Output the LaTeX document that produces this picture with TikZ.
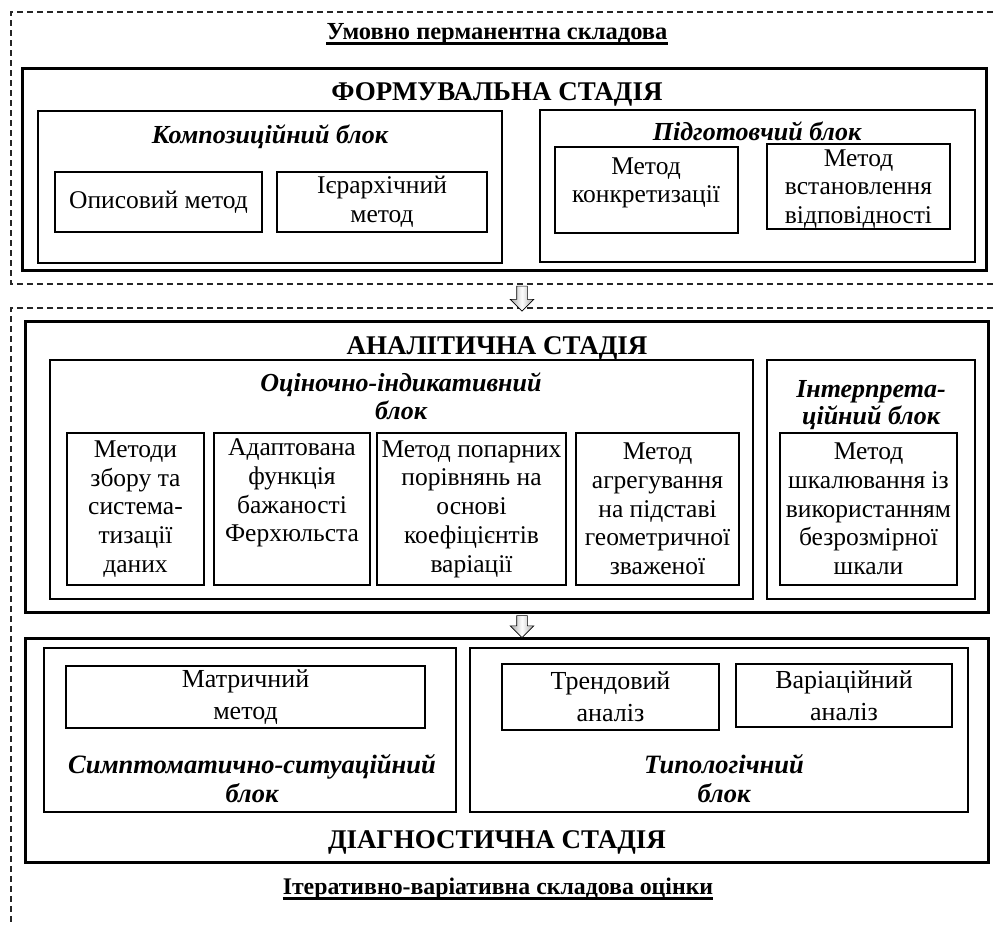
\documentclass[tikz,border=0pt]{standalone}
\usepackage{fontspec}
\setmainfont{Liberation Serif}
\usetikzlibrary{fit,shapes.arrows}
\newcommand\rbox[7]{\node[#2, fit={(#3,#4) (#5,#6)}, inner sep=0pt] (#1) {};
  \node[align=center, inner sep=0pt, txt] (#1-t) at (#1.center) {#7};}
\tikzset{
  txt/.style={font=\fontsize{25.5}{28.7}\selectfont},
  stagebox/.style={draw, line width=3pt},
  blockbox/.style={draw, line width=1.3pt},
  methbox/.style={draw, line width=1.3pt},
  stagettl/.style={font=\fontsize{27}{30}\selectfont\bfseries, inner sep=0pt},
  blockttl/.style={font=\fontsize{26}{28}\selectfont\bfseries\itshape, align=center, inner sep=0pt},
  blockttlc/.style={font=\fontsize{26.5}{29}\selectfont\bfseries\itshape, align=center, inner sep=0pt},
  condtxt/.style={font=\fontsize{26}{32}\selectfont},
  dashline/.style={line width=1.2pt, dash pattern=on 6pt off 4pt, gray!30!black},
  blockarrow/.style={single arrow, shape border rotate=270, draw, line width=0.6pt,
    inner sep=5pt, single arrow head extend=6.5pt, single arrow head indent=0pt,
    left color=gray!70, right color=gray!70, middle color=white},
  ulttl/.style={font=\fontsize{24.5}{28}\selectfont\bfseries, inner sep=0pt}
}
\begin{document}
\begin{tikzpicture}[x=1pt, y=-1pt]
\useasboundingbox (0,0) rectangle (993,924);
% upper dashed frame
\draw[dashline] (993,12) -- (11,12) -- (11,284) -- (993,284);
\node[ulttl] (top) at (497,34) {Умовно перманентна складова};
\draw[line width=2.5pt] ([yshift=-4pt]top.base west) -- ([yshift=-4pt]top.base east);

% formation stage
\node[stagebox, fit={(22,68) (986,270)}, inner sep=0pt] (st1) {};
\node[stagettl] (st1-t) at (497,94) {ФОРМУВАЛЬНА СТАДІЯ};
\node[blockbox, fit={(38,111) (502,263)}, inner sep=0pt] (komp) {};
\node[blockttl] (komp-t) at (270,137) {Композиційний блок};
\rbox{opys}{methbox}{55}{172}{262}{232}{Описовий метод}
\rbox{ierarh}{methbox}{277}{172}{487}{232}{Ієрархічний\\метод}
\node[blockbox, fit={(540,110) (975,262)}, inner sep=0pt] (pidg) {};
\node[blockttl] (pidg-t) at (757,131) {Підготовчий блок};
\node[methbox, fit={(555,147) (738,233)}, inner sep=0pt] (konkr) {};
\node[txt, align=center, inner sep=0pt] (konkr-t) at (646,183) {Метод\\конкретизації};
\node[methbox, fit={(767,144) (950,229)}, inner sep=0pt] (vidp) {};
\node[txt, align=center, inner sep=0pt] (vidp-t) at (858.5,189) {Метод\\встановлення\\відповідності};

% lower dashed frame
\draw[dashline] (993,308) -- (11,308) -- (11,924);

% analytic stage
\node[stagebox, fit={(25,321) (988,612)}, inner sep=0pt] (st2) {};
\node[stagettl] (st2-t) at (497,348) {АНАЛІТИЧНА СТАДІЯ};
\node[blockbox, fit={(50,360) (753,599)}, inner sep=0pt] (ocin) {};
\node[blockttl] (ocin-t) at (401,396) {Оціночно-індикативний\\блок};
\rbox{m1}{methbox}{67}{433}{204}{585}{Методи\\збору та\\система-\\тизації\\даних}
\rbox{m2}{methbox}{214}{433}{370}{585}{Адаптована\\функція\\бажаності\\Ферхюльста\\\strut}
\rbox{m3}{methbox}{377}{433}{566}{585}{Метод попарних\\порівнянь на\\основі\\коефіцієнтів\\варіації}
\rbox{m4}{methbox}{576}{433}{739}{585}{Метод\\агрегування\\на підставі\\геометричної\\зваженої}
\node[blockbox, fit={(767,360) (975,599)}, inner sep=0pt] (interp) {};
\node[blockttl, font=\fontsize{26}{26.5}\selectfont\bfseries\itshape] (interp-t) at (871,405) {Інтерпрета-\\ційний блок};
\rbox{m5}{methbox}{780}{433}{957}{585}{Метод\\шкалювання із\\використанням\\безрозмірної\\шкали}

% diagnostic stage
\node[stagebox, fit={(25,638) (988,862)}, inner sep=0pt] (st3) {};
\node[stagettl] (st3-t) at (497,842) {ДІАГНОСТИЧНА СТАДІЯ};
\node[blockbox, fit={(44,648) (456,812)}, inner sep=0pt] (sympt) {};
\node[blockttlc] (sympt-t) at (252,779) {Симптоматично-ситуаційний\\блок};
\node[methbox, fit={(66,666) (425,728)}, inner sep=0pt] (matr) {};
\node[condtxt, align=center, inner sep=0pt] (matr-t) at (matr.center) {Матричний\\метод};
\node[blockbox, fit={(470,648) (968,812)}, inner sep=0pt] (typol) {};
\node[blockttlc] (typol-t) at (724,779) {Типологічний\\блок};
\node[methbox, fit={(502,664) (719,730)}, inner sep=0pt] (trend) {};
\node[condtxt, align=center, inner sep=0pt] (trend-t) at (trend.center) {Трендовий\\аналіз};
\node[methbox, fit={(736,664) (952,727)}, inner sep=0pt] (var) {};
\node[condtxt, align=center, inner sep=0pt] (var-t) at (var.center) {Варіаційний\\аналіз};

% arrows between stages
\node[blockarrow, minimum height=25pt] (ar1) at (522,296) {};
\node[blockarrow, minimum height=22pt] (ar2) at (522,624) {};

\node[ulttl, font=\fontsize{23.8}{28}\selectfont\bfseries] (bot) at (498,889) {Ітеративно-варіативна складова оцінки};
\draw[line width=2.5pt] ([yshift=-4pt]bot.base west) -- ([yshift=-4pt]bot.base east);
\end{tikzpicture}
\end{document}
